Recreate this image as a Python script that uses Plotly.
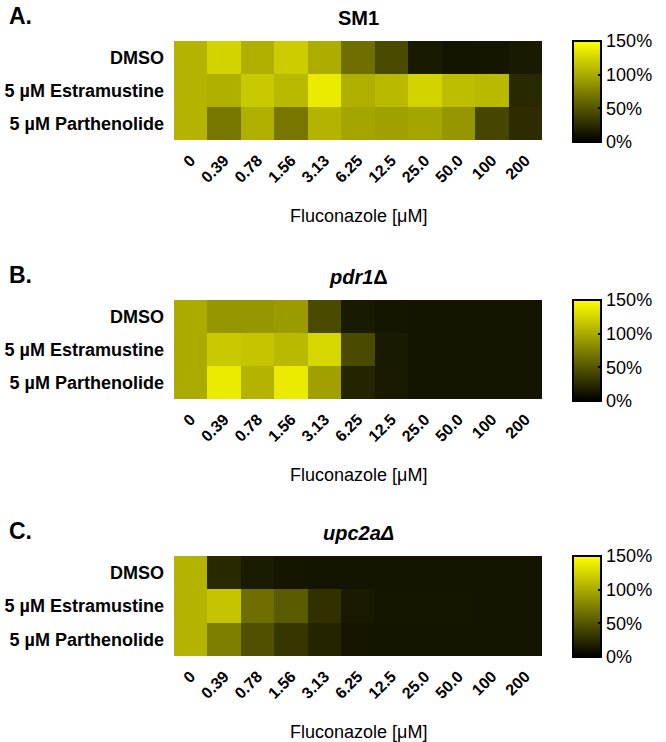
import plotly.graph_objects as go

concentrations = ["0", "0.39", "0.78", "1.56", "3.13", "6.25", "12.5", "25.0", "50.0", "100", "200"]
treatments = ["DMSO", "5 µM Estramustine", "5 µM Parthenolide"]

# growth (% of control) per strain: rows = treatments, cols = fluconazole conc.
sm1 = [
    [106, 124, 103, 120, 102, 65, 44, 15, 12, 13, 15],
    [106, 103, 118, 109, 138, 103, 109, 124, 112, 109, 24],
    [106, 70, 103, 70, 106, 97, 94, 97, 88, 41, 26],
]
pdr1 = [
    [100, 88, 88, 91, 44, 15, 13, 12, 12, 12, 12],
    [100, 118, 115, 109, 126, 44, 15, 12, 12, 12, 12],
    [100, 138, 106, 138, 94, 21, 15, 12, 12, 12, 12],
]
upc2a = [
    [106, 24, 16, 13, 12, 12, 12, 12, 12, 12, 12],
    [106, 115, 65, 53, 29, 15, 13, 13, 13, 12, 12],
    [106, 74, 47, 32, 21, 13, 12, 12, 12, 12, 12],
]
panels = [("A.", "<b>SM1</b>", sm1),
          ("B.", "<b><i>pdr1</i>Δ</b>", pdr1),
          ("C.", "<b><i>upc2aΔ</i></b>", upc2a)]
cbar_ticks = [0, 50, 100, 150]

W, H = 666, 742
# heatmap pixel boxes (top, bottom)
boxes = [(41, 140), (300, 399), (556, 656)]
x0, x1 = 174, 542
CB_X, CB_T, CB_LEN = 573, 28, 101
FONT = "Liberation Sans, Arial, sans-serif"

fig = go.Figure()
annotations = []
shapes = []
for i, ((letter, title, z), (top, bot)) in enumerate(zip(panels, boxes)):
    n = "" if i == 0 else str(i + 1)
    ydom = [1 - bot / H, 1 - top / H]
    fig.add_trace(go.Heatmap(
        z=z, x=concentrations, y=treatments,
        xaxis="x" + n, yaxis="y" + n,
        zmin=0, zmax=150,
        colorscale=[[0, "#000000"], [1, "#ffff00"]],
        xgap=0, ygap=0,
        colorbar=dict(
            x=CB_X / W, xanchor="left", xpad=0, ypad=0,
            y=1 - (top + CB_LEN / 2) / H, yanchor="middle",
            len=CB_LEN / H, lenmode="fraction",
            thickness=CB_T, thicknessmode="pixels",
            outlinewidth=2, outlinecolor="black",
            tickvals=cbar_ticks, ticktext=[f"{v}%" for v in cbar_ticks],
            ticks="inside", ticklen=4, tickwidth=2, tickcolor="black",
            tickfont=dict(family=FONT, size=18, color="black"),
        ),
        hoverinfo="skip",
    ))
    fig.update_layout(**{
        "xaxis" + n: dict(domain=[x0 / W, x1 / W], anchor="y" + n,
                          tickangle=-45, showgrid=False, zeroline=False,
                          showline=False, ticks="", ticklabelstandoff=7,
                          tickfont=dict(family=FONT, size=16, color="black", weight="bold")),
        "yaxis" + n: dict(domain=ydom, anchor="x" + n, autorange="reversed",
                          showgrid=False, zeroline=False, showline=False, ticks="",
                          ticklabelstandoff=9,
                          tickfont=dict(family=FONT, size=18, color="black", weight="bold")),
    })
    # left-side inner tick marks of the colour bar
    for v in cbar_ticks[1:-1]:
        yy = 1 - (top + (150 - v) / 150 * CB_LEN) / H
        shapes.append(dict(type="line", xref="paper", yref="paper",
                           x0=(CB_X + 1) / W, x1=(CB_X + 5) / W, y0=yy, y1=yy,
                           line=dict(color="black", width=2)))
    annotations.append(dict(text=f"<b>{letter}</b>", x=7 / W, y=1 - (top - 25) / H,
                            xref="paper", yref="paper", xanchor="left", yanchor="middle",
                            showarrow=False, font=dict(family=FONT, size=23, color="black")))
    annotations.append(dict(text=title, x=(x0 + x1) / 2 / W, y=1 - (top - 23) / H,
                            xref="paper", yref="paper", xanchor="center", yanchor="middle",
                            showarrow=False, font=dict(family=FONT, size=20, color="black")))
    annotations.append(dict(text="Fluconazole [μM]", x=(x0 + x1) / 2 / W, y=1 - (bot + 76) / H,
                            xref="paper", yref="paper", xanchor="center", yanchor="middle",
                            showarrow=False, font=dict(family=FONT, size=18, color="black")))

fig.update_layout(
    width=W, height=H,
    margin=dict(l=0, r=0, t=0, b=0),
    paper_bgcolor="white", plot_bgcolor="white",
    annotations=annotations, shapes=shapes,
    showlegend=False,
)
fig.write_html("out.html", config={"displayModeBar": False},
               post_script="document.body.style.margin='0';document.body.style.overflow='hidden';")
